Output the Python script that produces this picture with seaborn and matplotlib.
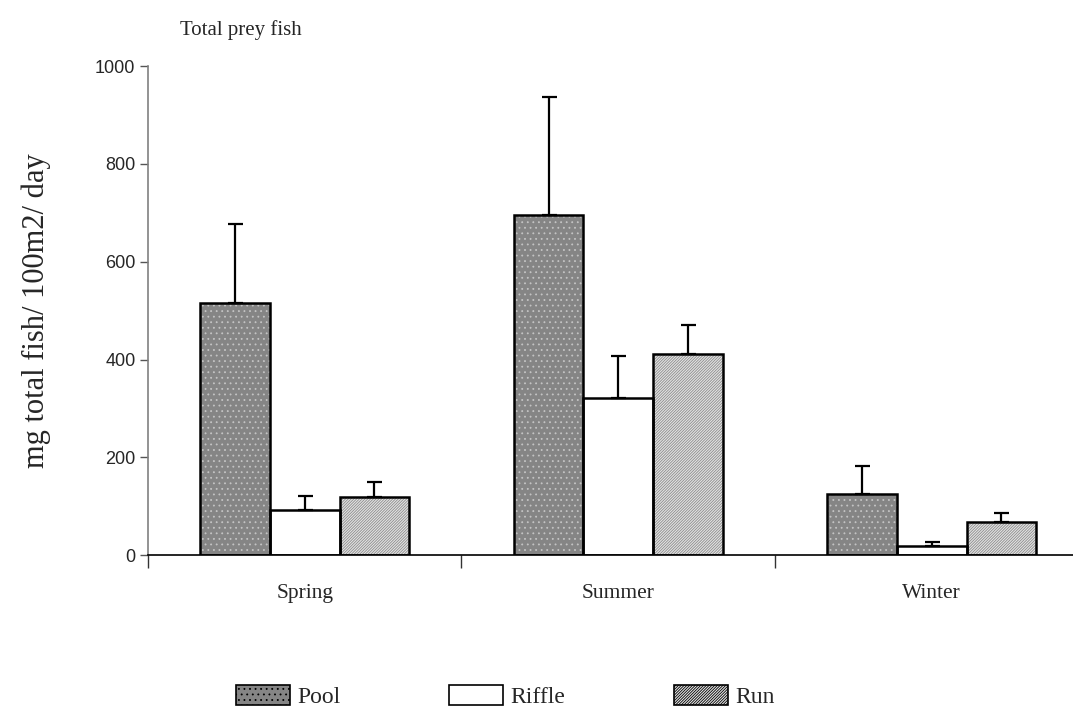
import numpy as np
import pandas as pd
import matplotlib
matplotlib.use('Agg')
import matplotlib.pyplot as plt
from matplotlib.patches import Rectangle, Patch
import seaborn as sns

# values
seasons = ['Spring', 'Summer', 'Winter']
habitats = ['Pool', 'Riffle', 'Run']
pool = [515, 696, 125]
pool_err = [162, 240, 58]
riffle = [93, 321, 19]
riffle_err = [28, 86, 7]
run = [118, 412, 67]
run_err = [31, 59, 19]

means = {'Pool': pool, 'Riffle': riffle, 'Run': run}
errs = {'Pool': pool_err, 'Riffle': riffle_err, 'Run': run_err}

df = pd.DataFrame({
    'season': seasons * 3,
    'habitat': np.repeat(habitats, 3),
    'value': pool + riffle + run,
})

sns.set_style('white')
plt.rcParams['font.family'] = ['Liberation Serif', 'DejaVu Serif']
plt.rcParams['hatch.linewidth'] = 0.6

faces = {'Pool': '#858585', 'Riffle': 'white', 'Run': '#e4e4e4'}
hatches = {'Pool': '...', 'Riffle': None, 'Run': '////////////'}
hatch_cols = {'Pool': '#c4c4c4', 'Riffle': 'white', 'Run': '#8c8c8c'}

fig = plt.figure(figsize=(10.73, 7.19), dpi=100)
ax = fig.add_axes([0.1379, 0.228, 0.8765, 0.680])

sns.barplot(data=df, x='season', y='value', hue='habitat', order=seasons,
            hue_order=habitats, palette=faces, width=0.667, gap=0,
            errorbar=None, legend=False, ax=ax)

# hatch fill from seaborn bars, black outline on top, upper error bars only
for hab, cont in zip(habitats, ax.containers):
    centers = []
    for p in cont.patches:
        p.set_edgecolor(hatch_cols[hab])
        p.set_linewidth(0)
        if hatches[hab]:
            p.set_hatch(hatches[hab])
        ax.add_patch(Rectangle(p.get_xy(), p.get_width(), p.get_height(),
                               fill=False, ec='black', lw=1.8, zorder=3))
        centers.append(p.get_x() + p.get_width() / 2)
    ax.errorbar(centers, means[hab], yerr=[np.zeros(3), errs[hab]], fmt='none',
                ecolor='black', elinewidth=1.6, capsize=5.4, capthick=1.6, zorder=2.5)

ax.set_xlim(-0.5, 2.5)
ax.set_ylim(0, 1000)
ax.set_yticks(range(0, 1001, 200))
ax.set_xticks(range(3))
ax.set_xticklabels(seasons, fontsize=15.5)
ax.set_xticks([-0.5, 0.5, 1.5, 2.5], minor=True)
ax.tick_params(axis='x', which='major', length=0, pad=21)
ax.tick_params(axis='x', which='minor', direction='out', length=9.5, width=1, color='#333333', bottom=True)
ax.tick_params(axis='y', direction='out', length=6, width=1, color='#555555', left=True, pad=3)
for lab in ax.get_yticklabels():
    lab.set_fontfamily('Liberation Sans')
    lab.set_fontsize(13)

ax.set_xlabel('')
ax.set_ylabel('mg total fish/ 100m2/ day', fontsize=22, labelpad=32)

for s in ['top', 'right']:
    ax.spines[s].set_visible(False)
ax.spines['left'].set_color('#808080')
ax.spines['left'].set_linewidth(1.2)
ax.spines['bottom'].set_color('black')
ax.spines['bottom'].set_linewidth(1.2)

fig.text(180 / 1073, 1 - 30 / 719, 'Total prey fish', fontsize=15, ha='left', va='center')

handles = [Patch(facecolor=faces[h], edgecolor='black', hatch=hatches[h], lw=1.2) for h in habitats]
fig.legend(handles, habitats, loc='center', bbox_to_anchor=(0.4706, 0.031),
           bbox_transform=fig.transFigure, ncol=3, frameon=False, fontsize=17,
           handlelength=2.3, handleheight=0.95, handletextpad=0.3, columnspacing=4.6)

fig.savefig('out.png', dpi=100)
